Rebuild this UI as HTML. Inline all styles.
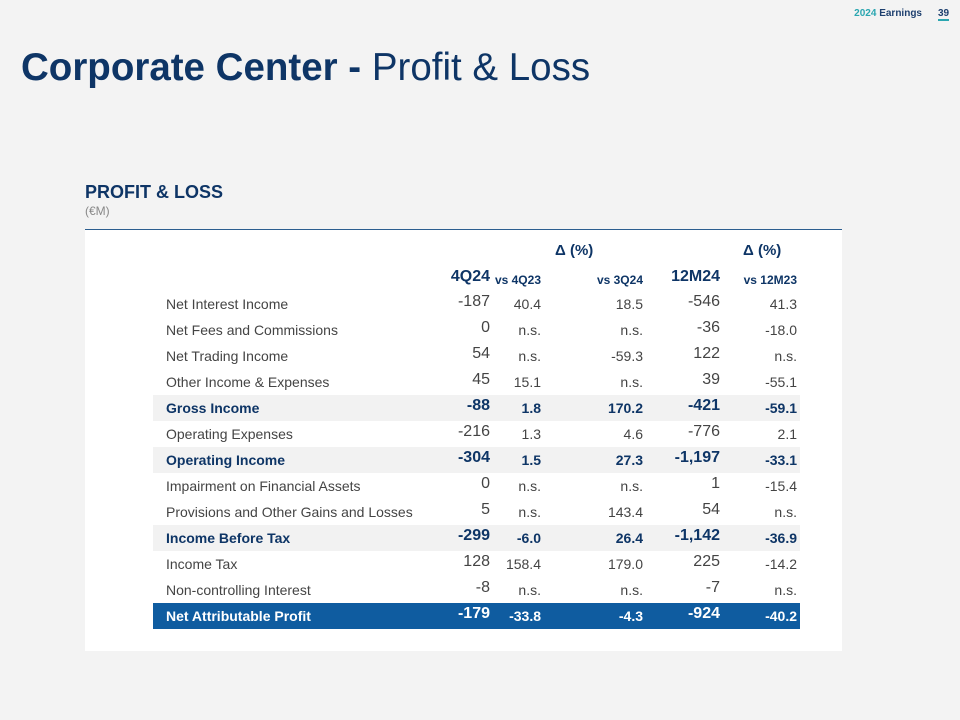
<!DOCTYPE html>
<html><head><meta charset="utf-8"><style>
body{margin:0;width:960px;height:720px;background:#f3f3f3;font-family:"Liberation Sans",sans-serif;position:relative;overflow:hidden}
.a{position:absolute;white-space:nowrap}
.card{position:absolute;left:85px;top:229px;width:757px;height:421px;background:#fff;border-top:1px solid #2b5d8f}
</style></head><body>
<div class="a" style="right:38px;top:8px;font-size:10px;font-weight:bold;color:#1d3f6e"><span style="color:#2aa6b0">2024</span> Earnings</div>
<div class="a" style="left:938px;top:8px;font-size:10px;font-weight:bold;color:#1d3f6e;border-bottom:2px solid #2aa6b0">39</div>
<div class="a" style="left:21px;top:46px;font-size:38.5px;color:#0e3566"><b>Corporate Center -</b> Profit &amp; Loss</div>
<div class="a" style="left:85px;top:182px;font-size:18px;font-weight:bold;color:#0e3566">PROFIT &amp; LOSS</div>
<div class="a" style="left:85px;top:204px;font-size:12px;color:#888">(€M)</div>
<div class="card"></div>
<div id="t"></div>
<script>
const labels=["Net Interest Income","Net Fees and Commissions","Net Trading Income","Other Income & Expenses","Gross Income","Operating Expenses","Operating Income","Impairment on Financial Assets","Provisions and Other Gains and Losses","Income Before Tax","Income Tax","Non-controlling Interest","Net Attributable Profit"];
const q4=["-187","0","54","45","-88","-216","-304","0","5","-299","128","-8","-179"];
const v4q23=["40.4","n.s.","n.s.","15.1","1.8","1.3","1.5","n.s.","n.s.","-6.0","158.4","n.s.","-33.8"];
const v3q24=["18.5","n.s.","-59.3","n.s.","170.2","4.6","27.3","n.s.","143.4","26.4","179.0","n.s.","-4.3"];
const m12=["-546","-36","122","39","-421","-776","-1,197","1","54","-1,142","225","-7","-924"];
const v12=["41.3","-18.0","n.s.","-55.1","-59.1","2.1","-33.1","-15.4","n.s.","-36.9","-14.2","n.s.","-40.2"];
const bold=[4,6,9];
const t=document.getElementById('t');
function add(html,style,name){const d=document.createElement('div');d.className='a';d.style.cssText=style;d.innerHTML=html;


t.appendChild(d);}
add('Δ (%)','left:555px;top:242px;font-size:15px;font-weight:bold;color:#0e3566','delta-header-quarter');
add('Δ (%)','left:743px;top:242px;font-size:15px;font-weight:bold;color:#0e3566','delta-header-year');
const H='font-weight:bold;color:#0e3566;';
add('4Q24','right:470px;top:268px;font-size:16px;'+H,'col-4q24');
add('vs 4Q23','right:419px;top:273px;font-size:12px;'+H,'col-vs4q23');
add('vs 3Q24','right:317px;top:273px;font-size:12px;'+H,'col-vs3q24');
add('12M24','right:240px;top:268px;font-size:16px;'+H,'col-12m24');
add('vs 12M23','right:163px;top:273px;font-size:12px;'+H,'col-vs12m23');
labels.forEach((l,i)=>{
 const top=295+i*26;
 const b=bold.includes(i), last=i==labels.length-1;
 if(b||last){add('', 'left:153px;top:'+(top-4)+'px;width:647px;height:26px;background:'+(last?'#0f5ca0':'#f2f2f2'),'row-bg-'+i);}
 const col=last?'#fff':(b?'#0e3566':'#444');
 const fw=(b||last)?'bold':'normal';
 const base='color:'+col+';font-weight:'+fw+';font-size:14px;';
 add(l,'left:166px;top:'+(top+1)+'px;'+base,'row-label-'+i);
 add(q4[i],'right:470px;top:'+(top-2)+'px;'+base+'font-size:16px','val-4q24-'+i);
 add(v4q23[i],'right:419px;top:'+(top+1)+'px;'+base,'val-vs4q23-'+i);
 add(v3q24[i],'right:317px;top:'+(top+1)+'px;'+base,'val-vs3q24-'+i);
 add(m12[i],'right:240px;top:'+(top-2)+'px;'+base+'font-size:16px','val-12m24-'+i);
 add(v12[i],'right:163px;top:'+(top+1)+'px;'+base,'val-vs12m23-'+i);
});
</script>
</body></html>
